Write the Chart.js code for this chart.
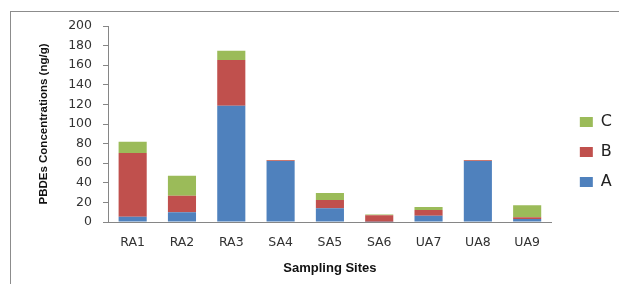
<!DOCTYPE html>
<html>
<head>
<meta charset="utf-8">
<script src="https://cdn.jsdelivr.net/npm/chart.js@4.4.1/dist/chart.umd.min.js"></script>
<style>
  body { margin: 0; background: #fff; }
  #chart { position: absolute; left: 0; top: 0; }
</style>
</head>
<body>
<canvas id="chart" width="619" height="284"></canvas>
<script>
// sampling sites and the three stacked fractions (ng/g)
var sites = ['RA1', 'RA2', 'RA3', 'SA4', 'SA5', 'SA6', 'UA7', 'UA8', 'UA9'];
var serieA = [5.4, 9.9, 118.7, 62.2, 14, 0.3, 6.4, 62.2, 3];
var serieB = [65, 16.9, 46.6, 0.8, 8.4, 6.6, 5.8, 0.8, 1.8];
var serieC = [11.6, 20.3, 9.5, 0.3, 7.2, 0.8, 3.1, 0.3, 12.2];
var yTicks = [0, 20, 40, 60, 80, 100, 120, 140, 160, 180, 200];

var gris = '#868686';

// marco gris alrededor del grafico
var marco = {
  id: 'marco',
  beforeDraw: function(chart){
    var ctx = chart.ctx;
    ctx.save();
    ctx.fillStyle = '#fff';
    ctx.fillRect(0, 0, chart.width, chart.height);
    ctx.strokeStyle = '#8c8c8c';
    ctx.lineWidth = 1;
    ctx.strokeRect(10.5, 11.5, 700, 400);
    ctx.restore();
  }
};

// mover la leyenda un poco a la derecha
var moverLeyenda = {
  id: 'moverLeyenda',
  afterLayout: function(chart){
    chart.legend.left += 14;
    chart.legend.right += 14;
  }
};

var datos = {
  type: 'bar',
  data: {
    labels: sites,
    datasets: [
      { label: 'A', data: serieA, backgroundColor: '#4F81BD' },
      { label: 'B', data: serieB, backgroundColor: '#C0504D' },
      { label: 'C', data: serieC, backgroundColor: '#9BBB59' }
    ]
  },
  options: {
    responsive: false,
    animation: false,
    devicePixelRatio: 1,
    layout: { padding: { top: 26, bottom: 6, left: 0, right: 11 } },
    datasets: { bar: { barPercentage: 0.57, categoryPercentage: 1 } },
    plugins: {
      legend: {
        position: 'right',
        align: 'center',
        reverse: true,
        labels: {
          boxWidth: 13,
          boxHeight: 10,
          padding: 14,
          color: '#222',
          font: { family: 'DejaVu Sans', size: 16 }
        }
      },
      tooltip: { enabled: false }
    },
    scales: {
      x: {
        stacked: true,
        grid: { display: false, drawTicks: false },
        border: { display: true, color: gris, width: 1 },
        ticks: { color: '#333', padding: 13, font: { family: 'DejaVu Sans', size: 12.5 } },
        title: {
          display: true,
          text: 'Sampling Sites',
          color: '#111',
          padding: { top: 0, bottom: 2 },
          font: { family: 'Liberation Sans', size: 13, weight: 'bold' }
        },
        afterFit: function(scale){ scale.height = 56; }
      },
      y: {
        stacked: true,
        min: 0,
        max: 200,
        afterBuildTicks: function(scale){
          scale.ticks = yTicks.map(function(v){ return { value: v }; });
        },
        grid: { display: true, drawOnChartArea: false, drawTicks: true, tickLength: 5, color: gris },
        border: { display: true, color: gris, width: 1 },
        ticks: { color: '#333', padding: 11, font: { family: 'DejaVu Sans', size: 12.5 } },
        title: {
          display: true,
          text: 'PBDEs Concentrations (ng/g)',
          color: '#111',
          padding: { top: 37, bottom: 0 },
          font: { family: 'Liberation Sans', size: 11.5, weight: 'bold' }
        },
        afterFit: function(scale){ scale.width = 108; }
      }
    }
  },
  plugins: [marco, moverLeyenda]
};

var canvas = document.getElementById('chart').getContext('2d');
window.grafico = new Chart(canvas, datos);
</script>
</body>
</html>
